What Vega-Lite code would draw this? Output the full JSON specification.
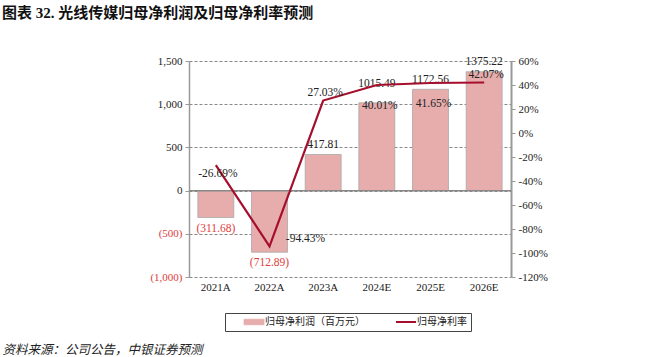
{
  "$schema": "https://vega.github.io/schema/vega-lite/v6.json",
  "autosize": {"type": "none"},
  "width": 322,
  "height": 216,
  "padding": {"left": 189, "top": 61, "right": 139, "bottom": 80},
  "background": "white",
  "config": {
    "font": "Liberation Serif, Noto Sans CJK SC",
    "view": {"stroke": null},
    "locale": {"number": {"decimal": ".", "thousands": ",", "grouping": [3], "currency": ["$", ""], "minus": "-"}},
    "axis": {"labelFont": "Liberation Serif", "labelFontSize": 11, "labelColor": "#222"}
  },
  "title": {
    "text": "图表 32. 光线传媒归母净利润及归母净利率预测",
    "anchor": "start",
    "frame": "group",
    "dx": -187,
    "offset": 34,
    "fontSize": 15,
    "fontWeight": "bold",
    "font": "Liberation Serif, Noto Sans CJK SC",
    "color": "#111"
  },
  "data": {
    "values": [
      {"year": "2021A", "profit": -311.68, "margin": -0.2669},
      {"year": "2022A", "profit": -712.89, "margin": -0.9443},
      {"year": "2023A", "profit": 417.81, "margin": 0.2703},
      {"year": "2024E", "profit": 1015.49, "margin": 0.4001},
      {"year": "2025E", "profit": 1172.56, "margin": 0.4165},
      {"year": "2026E", "profit": 1375.22, "margin": 0.4207}
    ]
  },
  "resolve": {"scale": {"y": "independent"}, "axis": {"y": "independent"}},
  "layer": [
    {
      "layer": [
        {
          "mark": {"type": "bar", "stroke": "#a8a8a8", "strokeWidth": 0.8},
          "encoding": {
            "x": {
              "field": "year", "type": "nominal", "sort": null,
              "scale": {"paddingInner": 0.33, "paddingOuter": 0.165},
              "axis": {
                "title": "资料来源：公司公告，中银证券预测",
                "titleAnchor": "start", "titleAlign": "left", "titleX": -187, "titleY": 72,
                "titleBaseline": "middle", "titleFontStyle": "italic", "titleFontWeight": "normal",
                "titleFontSize": 12.5, "titleFont": "Noto Sans CJK SC", "titleColor": "#222",
                "labelAngle": 0, "domain": false, "ticks": false, "labelPadding": 4, "grid": false
              }
            },
            "y": {
              "field": "profit", "type": "quantitative",
              "scale": {"domain": [-1000, 1500], "nice": false, "zero": false},
              "axis": {
                "orient": "left", "title": null,
                "values": [-1000, -500, 0, 500, 1000, 1500],
                "format": "(,.0f", "labelOverlap": false,
                "labelColor": {"condition": {"test": "datum.value < 0", "value": "#e03c3c"}, "value": "#222"},
                "domainColor": "#999", "domainWidth": 1.5,
                "tickColor": "#999", "tickSize": 4, "labelPadding": 3,
                "grid": true, "gridDash": [3, 2], "gridColor": "#888", "gridWidth": 1
              }
            },
            "color": {
              "datum": "归母净利润（百万元）", "type": "nominal",
              "scale": {"domain": ["归母净利润（百万元）", "归母净利率"], "range": ["#e6adac", "#a50f2d"]},
              "legend": {
                "orient": "none", "legendX": 36, "legendY": 252,
                "direction": "horizontal", "columns": 2, "title": null,
                "strokeColor": "#444", "padding": 4,
                "symbolSize": 400, "symbolOffset": 20,
                "labelFont": "Noto Sans CJK SC", "labelFontSize": 10, "labelColor": "#222",
                "labelOffset": 6, "columnPadding": 16,
                "encode": {
                  "symbols": {
                    "update": {
                      "shape": {"signal": "datum.label === '归母净利率' ? 'M-1,0H1' : 'M-1,-0.28H1V0.28H-1Z'"},
                      "fill": {"signal": "datum.label === '归母净利率' ? 'transparent' : '#e6adac'"},
                      "stroke": {"signal": "datum.label === '归母净利率' ? '#a50f2d' : '#a8a8a8'"},
                      "strokeWidth": {"signal": "datum.label === '归母净利率' ? 2 : 0.7"},
                      "opacity": {"value": 1}
                    }
                  }
                }
              }
            }
          }
        },
        {
          "mark": {"type": "rule", "color": "#888", "strokeWidth": 1},
          "encoding": {
            "y": {
              "datum": 0, "type": "quantitative",
              "axis": {
                "orient": "left", "title": null,
                "values": [-1000, -500, 0, 500, 1000, 1500],
                "format": "(,.0f", "labelOverlap": false,
                "labelColor": {"condition": {"test": "datum.value < 0", "value": "#e03c3c"}, "value": "#222"},
                "domainColor": "#999", "domainWidth": 1.5,
                "tickColor": "#999", "tickSize": 4, "labelPadding": 3,
                "grid": true, "gridDash": [3, 2], "gridColor": "#888", "gridWidth": 1
              }
            }
          }
        },
        {
          "transform": [{"filter": "datum.profit < 0"}],
          "mark": {"type": "text", "dy": 11, "fontSize": 11.5, "color": "#e03c3c", "font": "Liberation Serif"},
          "encoding": {
            "x": {"field": "year", "type": "nominal", "sort": null},
            "y": {
              "field": "profit", "type": "quantitative",
              "axis": {
                "orient": "left", "title": null,
                "values": [-1000, -500, 0, 500, 1000, 1500],
                "format": "(,.0f", "labelOverlap": false,
                "labelColor": {"condition": {"test": "datum.value < 0", "value": "#e03c3c"}, "value": "#222"},
                "domainColor": "#999", "domainWidth": 1.5,
                "tickColor": "#999", "tickSize": 4, "labelPadding": 3,
                "grid": true, "gridDash": [3, 2], "gridColor": "#888", "gridWidth": 1
              }
            },
            "text": {"field": "profit", "type": "quantitative", "format": "(.2f"}
          }
        },
        {
          "transform": [{"filter": "datum.profit > 0 && datum.year !== '2024E'"}],
          "mark": {"type": "text", "dy": -9.5, "fontSize": 11.5, "color": "#222", "font": "Liberation Serif"},
          "encoding": {
            "x": {"field": "year", "type": "nominal", "sort": null},
            "y": {
              "field": "profit", "type": "quantitative",
              "axis": {
                "orient": "left", "title": null,
                "values": [-1000, -500, 0, 500, 1000, 1500],
                "format": "(,.0f", "labelOverlap": false,
                "labelColor": {"condition": {"test": "datum.value < 0", "value": "#e03c3c"}, "value": "#222"},
                "domainColor": "#999", "domainWidth": 1.5,
                "tickColor": "#999", "tickSize": 4, "labelPadding": 3,
                "grid": true, "gridDash": [3, 2], "gridColor": "#888", "gridWidth": 1
              }
            },
            "text": {"field": "profit", "type": "quantitative", "format": ".2f"}
          }
        },
        {
          "transform": [{"filter": "datum.year === '2024E'"}],
          "mark": {"type": "text", "dy": -19, "fontSize": 11.5, "color": "#222", "font": "Liberation Serif"},
          "encoding": {
            "x": {"field": "year", "type": "nominal", "sort": null},
            "y": {
              "field": "profit", "type": "quantitative",
              "axis": {
                "orient": "left", "title": null,
                "values": [-1000, -500, 0, 500, 1000, 1500],
                "format": "(,.0f", "labelOverlap": false,
                "labelColor": {"condition": {"test": "datum.value < 0", "value": "#e03c3c"}, "value": "#222"},
                "domainColor": "#999", "domainWidth": 1.5,
                "tickColor": "#999", "tickSize": 4, "labelPadding": 3,
                "grid": true, "gridDash": [3, 2], "gridColor": "#888", "gridWidth": 1
              }
            },
            "text": {"field": "profit", "type": "quantitative", "format": ".2f"}
          }
        }
      ]
    },
    {
      "layer": [
        {
          "mark": {"type": "line", "strokeWidth": 2.2},
          "encoding": {
            "x": {"field": "year", "type": "nominal", "sort": null},
            "y": {
              "field": "margin", "type": "quantitative",
              "scale": {"domain": [-1.2, 0.6], "nice": false, "zero": false},
              "axis": {
                "orient": "right", "title": null,
                "values": [-1.2, -1, -0.8, -0.6, -0.4, -0.2, 0, 0.2, 0.4, 0.6],
                "format": ".0%", "grid": false, "labelOverlap": false,
                "domainColor": "#999", "domainWidth": 2,
                "tickColor": "#999", "tickSize": 4, "labelPadding": 3
              }
            },
            "color": {
              "datum": "归母净利率", "type": "nominal",
              "legend": {
                "orient": "none", "legendX": 36, "legendY": 252,
                "direction": "horizontal", "columns": 2, "title": null,
                "strokeColor": "#444", "padding": 4,
                "symbolSize": 400, "symbolOffset": 20,
                "labelFont": "Noto Sans CJK SC", "labelFontSize": 10, "labelColor": "#222",
                "labelOffset": 6, "columnPadding": 16,
                "encode": {
                  "symbols": {
                    "update": {
                      "shape": {"signal": "datum.label === '归母净利率' ? 'M-1,0H1' : 'M-1,-0.28H1V0.28H-1Z'"},
                      "fill": {"signal": "datum.label === '归母净利率' ? 'transparent' : '#e6adac'"},
                      "stroke": {"signal": "datum.label === '归母净利率' ? '#a50f2d' : '#a8a8a8'"},
                      "strokeWidth": {"signal": "datum.label === '归母净利率' ? 2 : 0.7"},
                      "opacity": {"value": 1}
                    }
                  }
                }
              }
            }
          }
        },
        {
          "transform": [{"filter": "datum.year === '2021A'"}],
          "mark": {"type": "text", "dy": 9, "dx": 2, "fontSize": 11.5, "color": "#222", "font": "Liberation Serif"},
          "encoding": {
            "x": {"field": "year", "type": "nominal", "sort": null},
            "y": {
              "field": "margin", "type": "quantitative",
              "axis": {
                "orient": "right", "title": null,
                "values": [-1.2, -1, -0.8, -0.6, -0.4, -0.2, 0, 0.2, 0.4, 0.6],
                "format": ".0%", "grid": false, "labelOverlap": false,
                "domainColor": "#999", "domainWidth": 2,
                "tickColor": "#999", "tickSize": 4, "labelPadding": 3
              }
            },
            "text": {"field": "margin", "type": "quantitative", "format": ".2%"}
          }
        },
        {
          "transform": [{"filter": "datum.year === '2022A'"}],
          "mark": {"type": "text", "dy": -7, "dx": 36, "fontSize": 11.5, "color": "#222", "font": "Liberation Serif"},
          "encoding": {
            "x": {"field": "year", "type": "nominal", "sort": null},
            "y": {
              "field": "margin", "type": "quantitative",
              "axis": {
                "orient": "right", "title": null,
                "values": [-1.2, -1, -0.8, -0.6, -0.4, -0.2, 0, 0.2, 0.4, 0.6],
                "format": ".0%", "grid": false, "labelOverlap": false,
                "domainColor": "#999", "domainWidth": 2,
                "tickColor": "#999", "tickSize": 4, "labelPadding": 3
              }
            },
            "text": {"field": "margin", "type": "quantitative", "format": ".2%"}
          }
        },
        {
          "transform": [{"filter": "datum.year === '2023A' || datum.year === '2026E'"}],
          "mark": {"type": "text", "dy": -8, "dx": 2, "fontSize": 11.5, "color": "#222", "font": "Liberation Serif"},
          "encoding": {
            "x": {"field": "year", "type": "nominal", "sort": null},
            "y": {
              "field": "margin", "type": "quantitative",
              "axis": {
                "orient": "right", "title": null,
                "values": [-1.2, -1, -0.8, -0.6, -0.4, -0.2, 0, 0.2, 0.4, 0.6],
                "format": ".0%", "grid": false, "labelOverlap": false,
                "domainColor": "#999", "domainWidth": 2,
                "tickColor": "#999", "tickSize": 4, "labelPadding": 3
              }
            },
            "text": {"field": "margin", "type": "quantitative", "format": ".2%"}
          }
        },
        {
          "transform": [{"filter": "datum.year === '2024E' || datum.year === '2025E'"}],
          "mark": {"type": "text", "dy": 21, "dx": 3, "fontSize": 11.5, "color": "#222", "font": "Liberation Serif"},
          "encoding": {
            "x": {"field": "year", "type": "nominal", "sort": null},
            "y": {
              "field": "margin", "type": "quantitative",
              "axis": {
                "orient": "right", "title": null,
                "values": [-1.2, -1, -0.8, -0.6, -0.4, -0.2, 0, 0.2, 0.4, 0.6],
                "format": ".0%", "grid": false, "labelOverlap": false,
                "domainColor": "#999", "domainWidth": 2,
                "tickColor": "#999", "tickSize": 4, "labelPadding": 3
              }
            },
            "text": {"field": "margin", "type": "quantitative", "format": ".2%"}
          }
        }
      ]
    }
  ]
}
